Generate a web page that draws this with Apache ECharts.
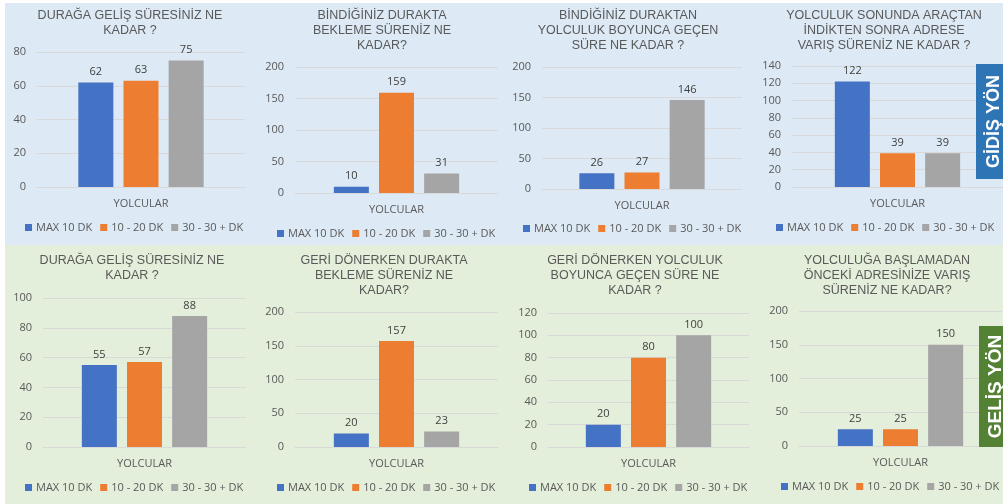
<!DOCTYPE html>
<html>
<head>
<meta charset="utf-8">
<script src="https://cdn.jsdelivr.net/npm/echarts@6/dist/echarts.min.js"></script>
<style>
  html, body { margin: 0; padding: 0; background: #ffffff; }
  #chart { width: 1003px; height: 504px; }
</style>
</head>
<body>
<div id="chart"></div>
<script>
const categories = ['YOLCULAR'];
const seriesNames = ['MAX 10 DK', '10 - 20 DK', '30 - 30 + DK'];
const titles = [
    'DURAĞA GELİŞ SÜRESİNİZ NE\nKADAR ?',
    'BİNDİĞİNİZ DURAKTA\nBEKLEME SÜRENİZ NE\nKADAR?',
    'BİNDİĞİNİZ DURAKTAN\nYOLCULUK BOYUNCA GEÇEN\nSÜRE NE KADAR ?',
    'YOLCULUK SONUNDA ARAÇTAN\nİNDİKTEN SONRA ADRESE\nVARIŞ SÜRENİZ NE KADAR ?',
    'DURAĞA GELİŞ SÜRESİNİZ NE\nKADAR ?',
    'GERİ DÖNERKEN DURAKTA\nBEKLEME SÜRENİZ NE\nKADAR?',
    'GERİ DÖNERKEN YOLCULUK\nBOYUNCA GEÇEN SÜRE NE\nKADAR ?',
    'YOLCULUĞA BAŞLAMADAN\nÖNCEKİ ADRESİNİZE VARIŞ\nSÜRENİZ NE KADAR?'
];
const max10 = [62, 10, 26, 122, 55, 20, 20, 25];
const dk10to20 = [63, 159, 27, 39, 57, 157, 80, 25];
const dk30plus = [75, 31, 146, 39, 88, 23, 100, 150];
const yMax = [80, 200, 200, 140, 100, 200, 120, 200];
const yStep = [20, 50, 50, 20, 20, 50, 20, 50];
const sideLabels = ['GİDİŞ YÖN', 'GELİŞ YÖN'];

// layout (px)
const grids = [
    { left: 37, top: 52, width: 208, height: 135 },
    { left: 295, top: 67, width: 203, height: 126 },
    { left: 542, top: 67, width: 200, height: 122 },
    { left: 792, top: 66, width: 211, height: 121 },
    { left: 43, top: 298, width: 203, height: 149 },
    { left: 295, top: 312, width: 203, height: 135 },
    { left: 548, top: 313, width: 201, height: 134 },
    { left: 799, top: 311, width: 203, height: 135 }
];
const titleCenters = [130, 382, 628, 884, 132, 384, 635, 887];
const legendLefts = [25, 277, 523, 776, 25, 277, 529, 781];
const legendTops = [222, 228, 223, 222, 482, 482, 482, 481];
const colors = ['#4472c4', '#ed7d31', '#a5a5a5'];
const valueSets = [max10, dk10to20, dk30plus];

const textColor = '#595959';
const labelFont = '"Open Sans", "Noto Sans", sans-serif';

const chart = echarts.init(document.getElementById('chart'));

const option = {
    animation: false,
    color: colors,
    title: titles.map((t, i) => ({
        text: t,
        left: titleCenters[i],
        top: i < 4 ? 8 : 253,
        textAlign: 'center',
        padding: 0,
        textStyle: {
            color: textColor,
            fontFamily: '"Liberation Sans", Arial, sans-serif',
            fontWeight: 'normal',
            fontSize: 12.5,
            lineHeight: 15
        }
    })),
    legend: grids.map((g, i) => ({
        data: seriesNames,
        left: legendLefts[i],
        top: legendTops[i],
        padding: 0,
        icon: 'rect',
        itemWidth: 7,
        itemHeight: 7,
        itemGap: 8,
        textStyle: { color: textColor, fontFamily: labelFont, fontSize: 11, padding: [0, 0, 0, -1] }
    })),
    grid: grids,
    xAxis: grids.map((g, i) => ({
        type: 'category',
        gridIndex: i,
        data: categories,
        axisTick: { show: false },
        axisLine: { lineStyle: { color: '#d9d9d9' } },
        axisLabel: { color: textColor, fontFamily: labelFont, fontSize: 11, margin: 11 }
    })),
    yAxis: grids.map((g, i) => ({
        type: 'value',
        gridIndex: i,
        min: 0,
        max: yMax[i],
        interval: yStep[i],
        axisLine: { show: false },
        axisTick: { show: false },
        axisLabel: { color: textColor, fontFamily: labelFont, fontSize: 11, margin: 11 },
        splitLine: { lineStyle: { color: '#d9d9d9' } }
    })),
    series: [],
    graphic: []
};

for (let i = 0; i < grids.length; i++) {
    for (let s = 0; s < seriesNames.length; s++) {
        option.series.push({
            type: 'bar',
            name: seriesNames[s],
            xAxisIndex: i,
            yAxisIndex: i,
            data: [valueSets[s][i]],
            barWidth: 35,
            barGap: '29%',
            itemStyle: { color: colors[s] },
            label: {
                show: true,
                position: 'top',
                distance: 5,
                color: '#404040',
                fontFamily: labelFont,
                fontSize: 11
            }
        });
    }
}

// panel backgrounds
option.graphic.push(
    { type: 'rect', z: -10, silent: true, shape: { x: 5, y: 3, width: 998, height: 242 }, style: { fill: '#dde9f5' } },
    { type: 'rect', z: -10, silent: true, shape: { x: 5, y: 245, width: 998, height: 259 }, style: { fill: '#e3efda' } }
);

// side labels
option.graphic.push(
    { type: 'rect', z: 100, shape: { x: 976, y: 64, width: 27, height: 115 }, style: { fill: '#2e75b6' } },
    {
        type: 'text', z: 101, x: 994, y: 121.5, rotation: Math.PI / 2,
        style: { text: sideLabels[0], fill: '#ffffff', font: 'bold 18px "Liberation Sans", Arial, sans-serif', align: 'center', verticalAlign: 'middle' }
    },
    { type: 'rect', z: 100, shape: { x: 979, y: 326, width: 24, height: 121 }, style: { fill: '#548235' } },
    {
        type: 'text', z: 101, x: 995.5, y: 386.5, rotation: Math.PI / 2,
        style: { text: sideLabels[1], fill: '#ffffff', font: 'bold 19px "Liberation Sans", Arial, sans-serif', align: 'center', verticalAlign: 'middle' }
    }
);

chart.setOption(option);

window.addEventListener('resize', () => {
    chart.resize();
});
</script>
</body>
</html>
